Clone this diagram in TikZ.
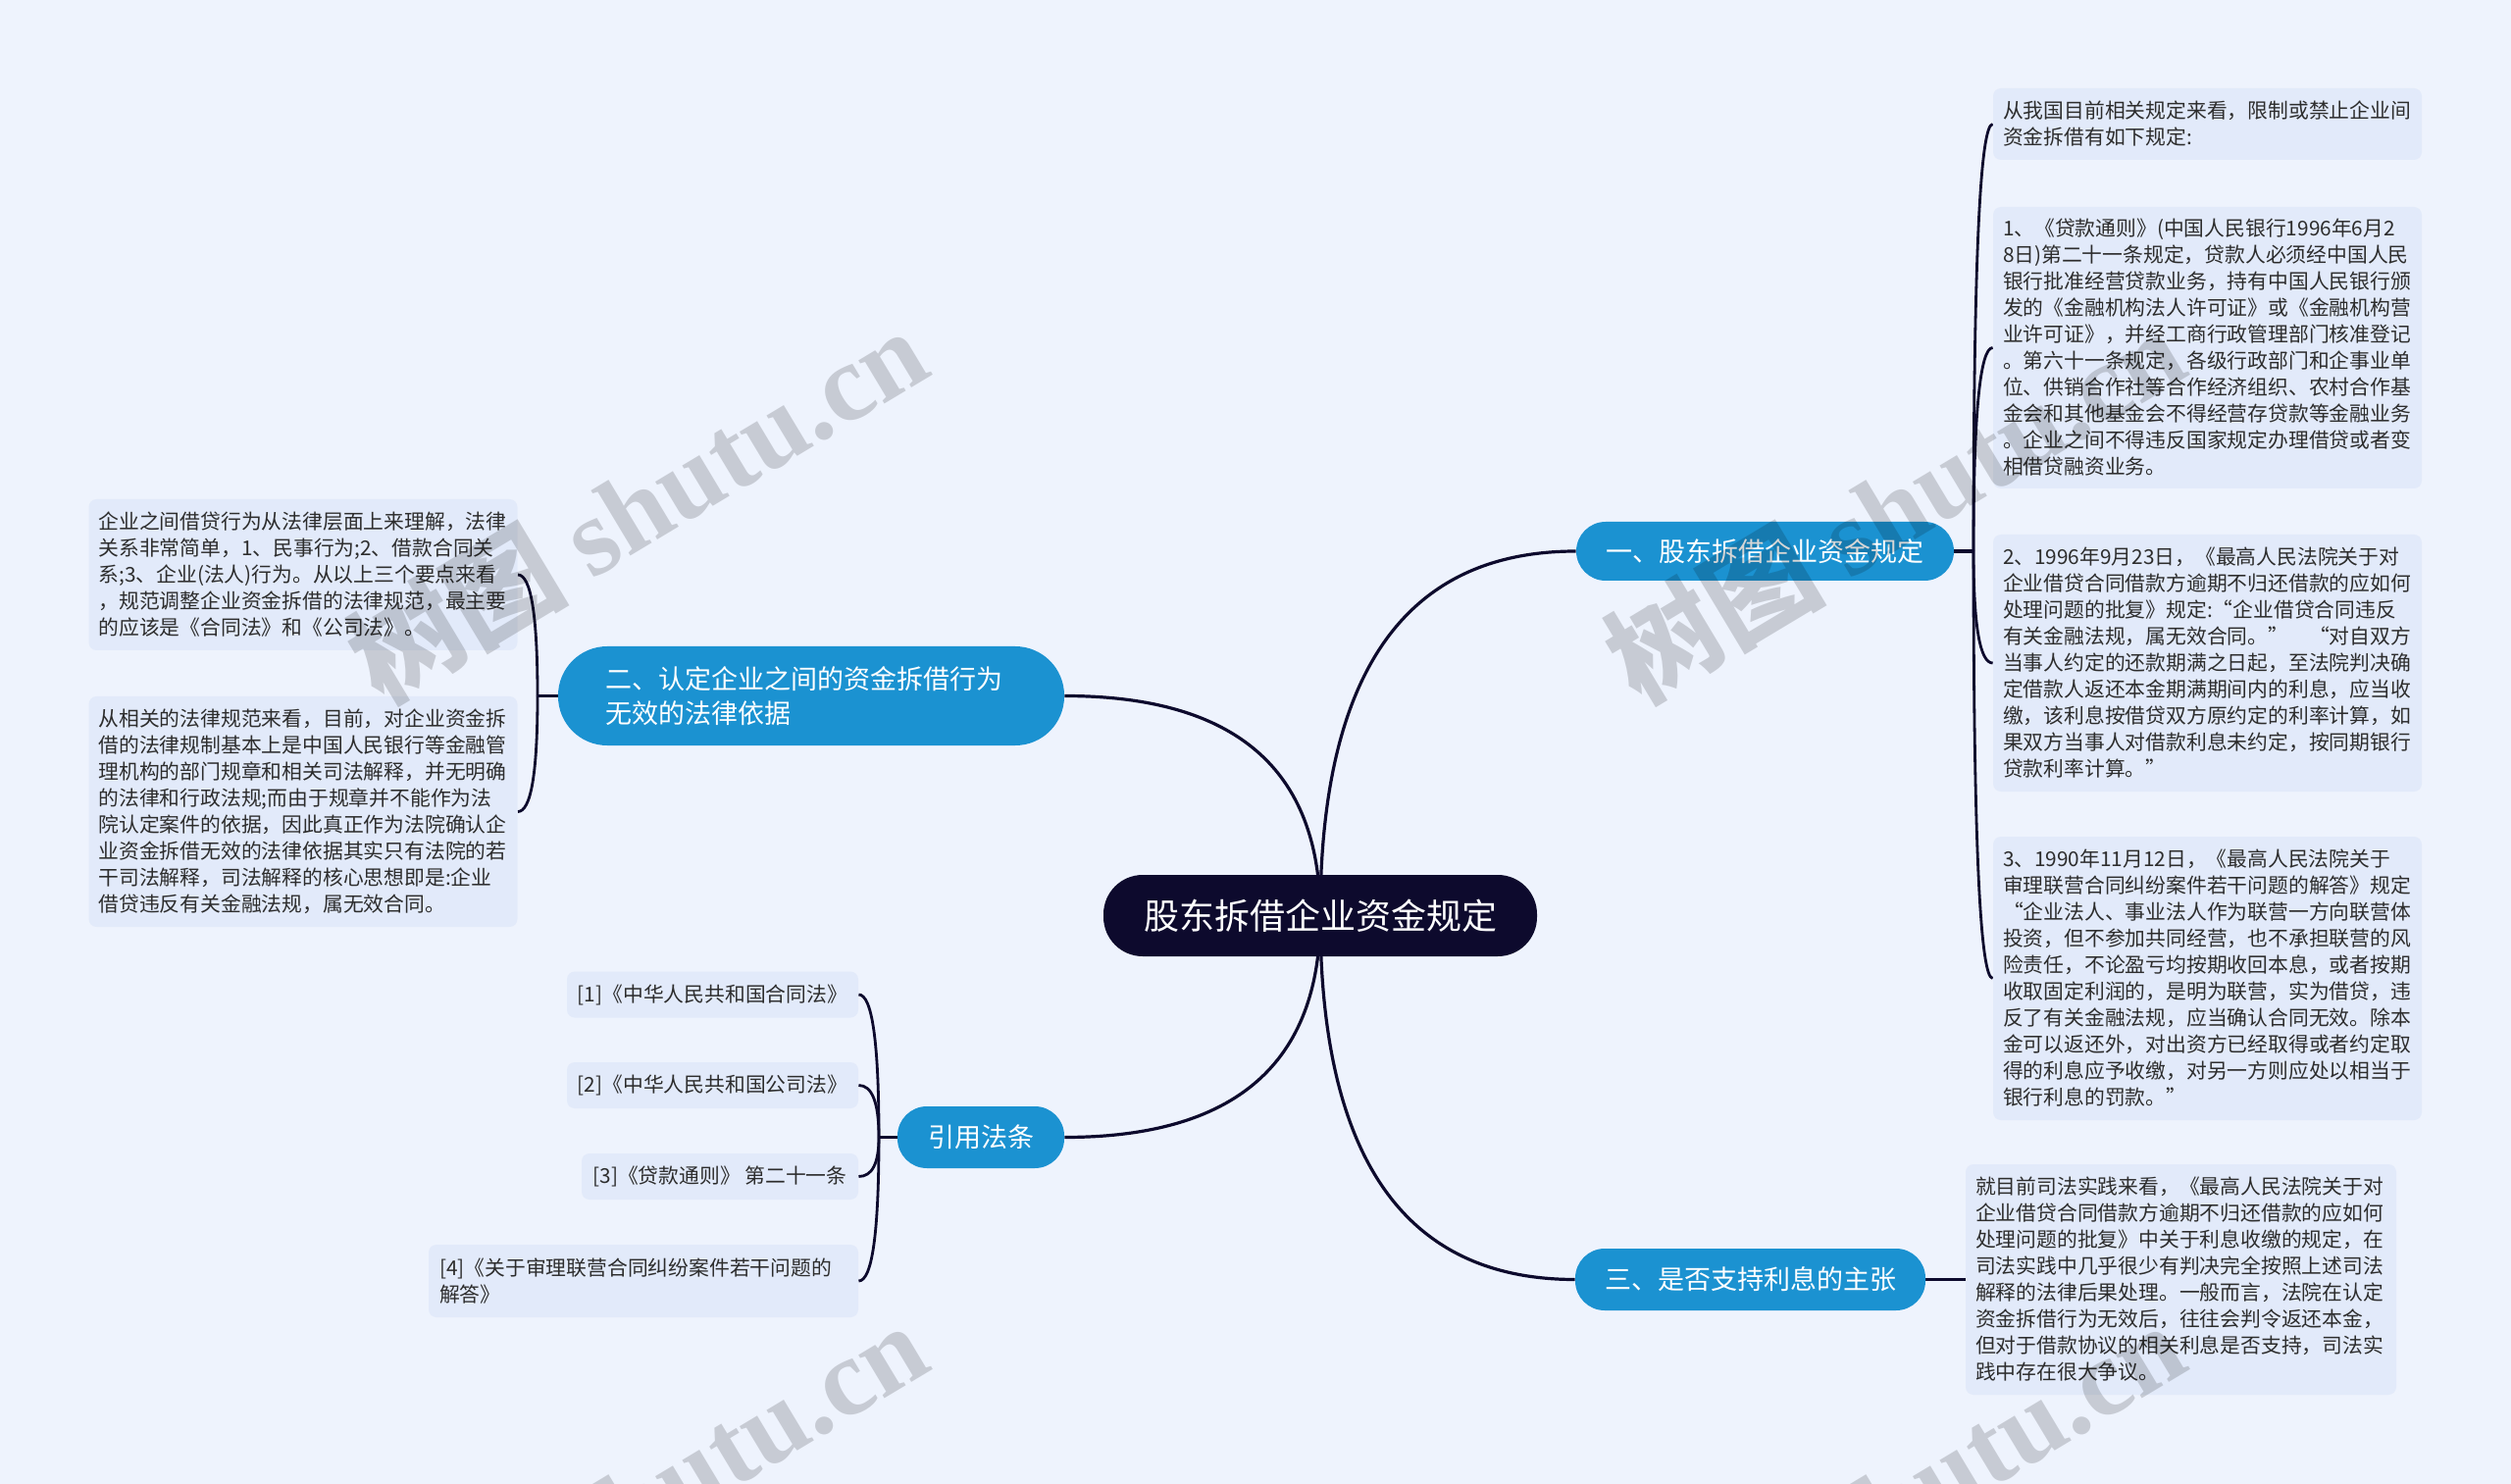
\documentclass[tikz,border=0pt]{standalone}
\usepackage{fontspec}
\setmainfont{Noto Sans CJK SC}
\newfontfamily\wmserif{Liberation Serif}
\usetikzlibrary{calc}
\definecolor{bgc}{RGB}{238,243,253}
\definecolor{leafc}{RGB}{226,234,250}
\definecolor{navy}{RGB}{13,10,45}
\definecolor{blu}{RGB}{27,146,209}
\definecolor{txt}{RGB}{45,45,45}
\pgfdeclarelayer{bottom}
\pgfdeclarelayer{background}
\pgfdeclarelayer{front}
\pgfsetlayers{bottom,background,main,front}
\begin{document}
\begin{tikzpicture}[x=0.5pt,y=-0.5pt,
 leaf/.style={fill=leafc, rounded corners=4pt, text=txt, font=\fontsize{10.4pt}{13.5pt}\selectfont, align=left, inner xsep=5pt, inner ysep=0pt, text width=208.5pt},
 cite/.style={fill=leafc, rounded corners=4pt, text=txt, font=\fontsize{10.4pt}{13.5pt}\selectfont, align=center, inner sep=0pt, minimum height=23.5pt},
 br/.style={fill=blu, text=white, font=\fontsize{13.5pt}{17pt}\selectfont, rounded corners=15pt, inner sep=0pt, align=center},
 ctr/.style={fill=navy, text=white, font=\fontsize{18pt}{22pt}\selectfont, rounded corners=20pt, inner sep=0pt},
 link/.style={draw=navy, line width=1.6pt},
 brace/.style={draw=navy, line width=1.4pt},
 wm/.style={text=black, opacity=0.16, font=\fontsize{56pt}{60pt}\selectfont\bfseries, rotate=31, inner sep=0pt}
]
\begin{pgfonlayer}{bottom}
\fill[bgc] (0,0) rectangle (2560,1513);
\end{pgfonlayer}
\useasboundingbox (0,0) rectangle (2560,1513);

% central and main branches
\node[ctr, minimum width=221pt, minimum height=41.5pt] (c) at (1346,933.5) {股东拆借企业资金规定};
\node[br, minimum width=192.5pt, minimum height=30pt] (b1) at (1799.5,562) {一、股东拆借企业资金规定};
\node[br, minimum width=258pt, minimum height=50.5pt, rounded corners=25pt, align=left, text width=210pt, font=\fontsize{13.5pt}{17.5pt}\selectfont] (b2) at (827,709.5) {二、认定企业之间的资金拆借行为\\无效的法律依据};
\node[br, minimum width=178.5pt, minimum height=31.5pt] (b3) at (1784.5,1304.5) {三、是否支持利息的主张};
\node[br, minimum width=85pt, minimum height=31.5pt] (b4) at (1000,1159.5) {引用法条};

% right leaves of branch 1
\node[leaf, minimum height=36.5pt] (r1) at (2250.5,126.5) {从我国目前相关规定来看，限制或禁止企业间\\
资金拆借有如下规定:};
\node[leaf, minimum height=143.5pt] (r2) at (2250.5,354.5) {1、《贷款通则》(中国人民银行1996年6月2\\
8日)第二十一条规定，贷款人必须经中国人民\\
银行批准经营贷款业务，持有中国人民银行颁\\
发的《金融机构法人许可证》或《金融机构营\\
业许可证》，并经工商行政管理部门核准登记\\
。第六十一条规定，各级行政部门和企事业单\\
位、供销合作社等合作经济组织、农村合作基\\
金会和其他基金会不得经营存贷款等金融业务\\
。企业之间不得违反国家规定办理借贷或者变\\
相借贷融资业务。};
\node[leaf, minimum height=131pt] (r3) at (2250.5,676) {2、1996年9月23日，《最高人民法院关于对\\
企业借贷合同借款方逾期不归还借款的应如何\\
处理问题的批复》规定:“企业借贷合同违反\\
有关金融法规，属无效合同。”　“对自双方\\
当事人约定的还款期满之日起，至法院判决确\\
定借款人返还本金期满期间内的利息，应当收\\
缴，该利息按借贷双方原约定的利率计算，如\\
果双方当事人对借款利息未约定，按同期银行\\
贷款利率计算。”};
\node[leaf, minimum height=144.5pt] (r4) at (2250.5,997.5) {3、1990年11月12日，《最高人民法院关于\\
审理联营合同纠纷案件若干问题的解答》规定\\
“企业法人、事业法人作为联营一方向联营体\\
投资，但不参加共同经营，也不承担联营的风\\
险责任，不论盈亏均按期收回本息，或者按期\\
收取固定利润的，是明为联营，实为借贷，违\\
反了有关金融法规，应当确认合同无效。除本\\
金可以返还外，对出资方已经取得或者约定取\\
得的利息应予收缴，对另一方则应处以相当于\\
银行利息的罚款。”};

% leaf of branch 3
\node[leaf, minimum height=117.5pt, text width=209.5pt] (r5) at (2223.5,1304.5) {就目前司法实践来看，《最高人民法院关于对\\
企业借贷合同借款方逾期不归还借款的应如何\\
处理问题的批复》中关于利息收缴的规定，在\\
司法实践中几乎很少有判决完全按照上述司法\\
解释的法律后果处理。一般而言，法院在认定\\
资金拆借行为无效后，往往会判令返还本金，\\
但对于借款协议的相关利息是否支持，司法实\\
践中存在很大争议。};

% left leaves of branch 2
\node[leaf, minimum height=77pt] (l1) at (309,586) {企业之间借贷行为从法律层面上来理解，法律\\
关系非常简单，1、民事行为;2、借款合同关\\
系;3、企业(法人)行为。从以上三个要点来看\\
，规范调整企业资金拆借的法律规范，最主要\\
的应该是《合同法》和《公司法》。};
\node[leaf, minimum height=117.5pt] (l2) at (309,827.5) {从相关的法律规范来看，目前，对企业资金拆\\
借的法律规制基本上是中国人民银行等金融管\\
理机构的部门规章和相关司法解释，并无明确\\
的法律和行政法规;而由于规章并不能作为法\\
院认定案件的依据，因此真正作为法院确认企\\
业资金拆借无效的法律依据其实只有法院的若\\
干司法解释，司法解释的核心思想即是:企业\\
借贷违反有关金融法规，属无效合同。};

% cited laws
\node[cite, minimum width=148.5pt] (k1) at (726.5,1014) {[1]《中华人民共和国合同法》};
\node[cite, minimum width=148.5pt] (k2) at (726.5,1106.5) {[2]《中华人民共和国公司法》};
\node[cite, minimum width=141pt] (k3) at (734,1199.5) {[3]《贷款通则》 第二十一条};
\node[leaf, minimum height=37pt, text width=208pt, inner xsep=5.5pt] (k4) at (656,1306) {[4]《关于审理联营合同纠纷案件若干问题的\\
解答》};

% junctions
\coordinate (j1) at (2012,562);
\coordinate (j2) at (548,709.5);
\coordinate (j4) at (896,1159.5);

\begin{pgfonlayer}{background}
% main connectors (quadratic-like)
\foreach \t/\a in {b1/west,b2/east,b3/west,b4/east}{
  \draw[link] (c.center) .. controls ($(c.center)!0.667!(c.center|-\t.\a)$) and ($(\t.\a)!0.667!(c.center|-\t.\a)$) .. (\t.\a);
}
% branch 1 bracket
\draw[link] (b1.east) -- (j1);
\foreach \n in {r1,r2,r3,r4}{
  \draw[brace] (j1) .. controls ($(j1)!0.667!(j1|-\n.west)$) and ($(\n.west)!0.667!(j1|-\n.west)$) .. (\n.west);
}
% branch 2 bracket
\draw[link] (b2.west) -- (j2);
\foreach \n in {l1,l2}{
  \draw[brace] (j2) .. controls ($(j2)!0.667!(j2|-\n.east)$) and ($(\n.east)!0.667!(j2|-\n.east)$) .. (\n.east);
}
% cite bracket
\draw[link] (b4.west) -- (j4);
\foreach \n in {k1,k2,k3,k4}{
  \draw[brace] (j4) .. controls ($(j4)!0.667!(j4|-\n.east)$) and ($(\n.east)!0.667!(j4|-\n.east)$) .. (\n.east);
}
% branch 3
\draw[link] (b3.east) -- (r5.west);
\end{pgfonlayer}

% watermarks
\begin{pgfonlayer}{front}
\begin{scope}
\clip (0,0) rectangle (2560,1513);
\node[wm] (wm1) at (649,514) {树图 {\wmserif\bfseries shutu.cn}};
\node[wm] (wm2) at (1931,514) {树图 {\wmserif\bfseries shutu.cn}};
\node[wm] (wm3) at (649,1528) {树图 {\wmserif\bfseries shutu.cn}};
\node[wm] (wm4) at (1931,1528) {树图 {\wmserif\bfseries shutu.cn}};
\end{scope}
\end{pgfonlayer}
\end{tikzpicture}
\end{document}
